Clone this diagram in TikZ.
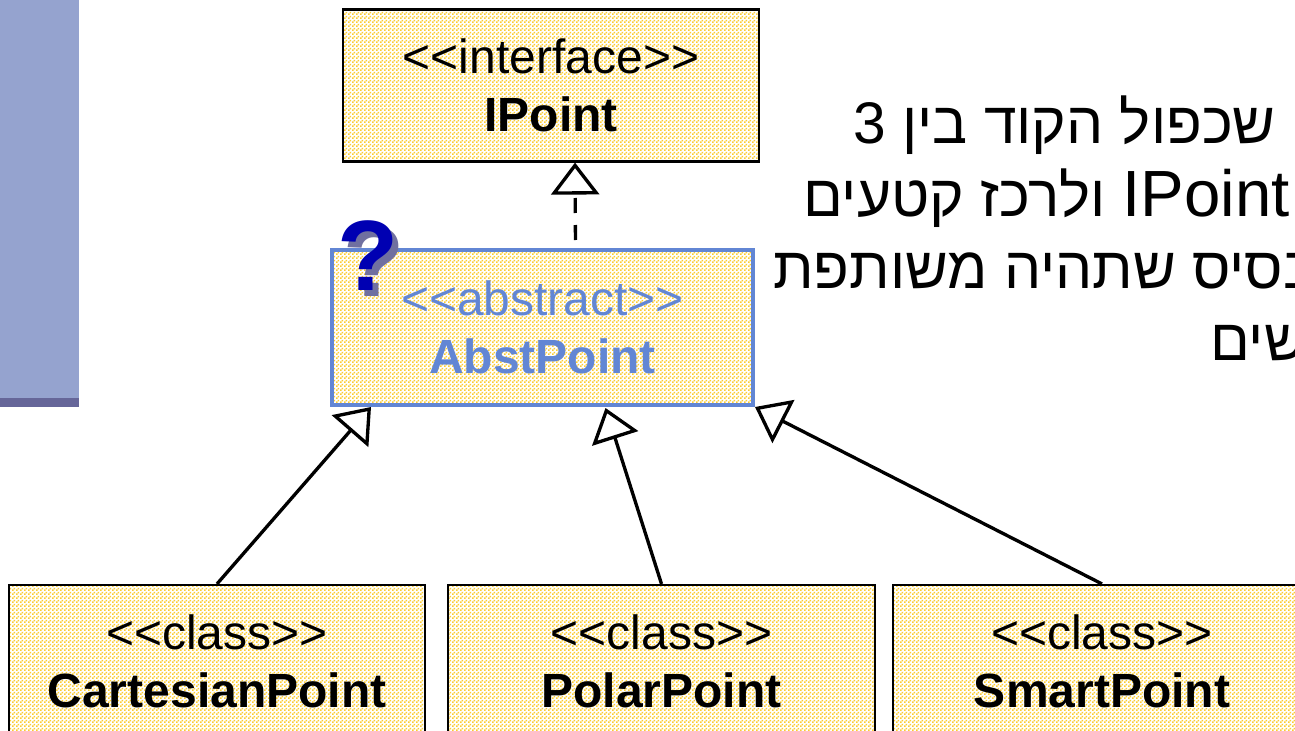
\documentclass[tikz,border=0pt]{standalone}
\usepackage{fontspec}
\setmainfont[Ligatures=TeXOff]{Liberation Sans}
\newfontfamily\hebfont[Script=Hebrew]{Liberation Sans}
\TeXXeTstate=1
\usetikzlibrary{arrows.meta, calc, patterns.meta}
\definecolor{umlblue}{RGB}{98,134,212}
\definecolor{qblue}{RGB}{0,0,178}
\definecolor{qshadow}{RGB}{112,112,160}
\definecolor{barblue}{RGB}{149,163,207}
\definecolor{bardark}{RGB}{102,102,153}
\definecolor{checklight}{RGB}{255,244,196}
\definecolor{checkdark}{RGB}{252,204,48}
\tikzdeclarepattern{
  name=checker, type=uncolored,
  bounding box={(0pt,0pt) and (3pt,3pt)}, tile size={(3pt,3pt)},
  code={\fill (0pt,0pt) rectangle (1.5pt,1.5pt); \fill (1.5pt,1.5pt) rectangle (3pt,3pt);}
}

\begin{document}
\begin{tikzpicture}[
    x=0.75pt, y=-0.75pt,
    umlbox/.style={draw, line width=1.6pt, fill=checklight, pattern=checker, pattern color=checkdark,
        inner sep=0pt, align=center, font=\fontsize{36}{43.5}\selectfont,
        minimum width=312pt, minimum height=114pt},
    inherit/.style={-{Triangle[open, length=24pt, width=36pt]}, line width=2.5pt, line join=miter},
    realize/.style={inherit, dash pattern=on 11.25pt off 9pt, dash phase=14.25pt},
    hebtext/.style={font=\hebfont\fontsize{44}{54}\selectfont, anchor=base west, inner sep=0pt},
    qsign/.style={font=\fontsize{75}{75}\selectfont\bfseries, inner sep=0pt}
]
    \useasboundingbox (0,0) rectangle (1295,731);
    \clip (0,0) rectangle (1295,731);
    \fill[white] (0,0) rectangle (1295,731);

    % slide side bar
    \fill[barblue] (0,0) rectangle (79,398);
    \fill[bardark] (0,398) rectangle (79,407);

    \node[umlbox] (ipoint) at (551,85.5) {<<interface>>\\\textbf{IPoint}};
    \node[umlbox, draw=umlblue, line width=3pt, text=umlblue, minimum width=315.75pt, minimum height=116.25pt]
        (abst) at (542.5,327.5) {<<abstract>>\\\textbf{AbstPoint}};
    \node[umlbox] (cart) at (217,661) {<<class>>\\\textbf{CartesianPoint}};
    \node[umlbox, minimum width=320.25pt] (polar) at (661.5,661) {<<class>>\\\textbf{PolarPoint}};
    \node[umlbox, minimum width=313.5pt] (smart) at (1102,661) {<<class>>\\\textbf{SmartPoint}};

    \draw[realize] ($(abst.north)+(33,0)$) -- ($(ipoint.south)+(24,0)$);
    \draw[inherit] (cart.north) -- ($(abst.south west)+(41,0)$);
    \draw[inherit] (polar.north) -- ($(abst.south)+(63,1)$);
    \draw[inherit] (smart.north) -- (abst.south east);

    \node[qsign, text=qshadow] (qshade) at (374,262) {?};
    \node[qsign, text=qblue] (qmark) at (368,256) {?};

    % hebrew text, cut by the slide edge
    \node[hebtext] (line1) at (853,144) {\beginR שכפול הקוד בין 3\endR};
    \node[hebtext] (line2) at (803,216) {\beginR\beginL{\fontsize{49}{54}\selectfont IPoint}\endL{} ולרכז קטעים\endR};
    \node[hebtext] (line3) at (773,288) {\beginR בסיס שתהיה משותפת\endR};
    \node[hebtext] (line4) at (1210,360) {\beginR שים\endR};
\end{tikzpicture}
\end{document}
